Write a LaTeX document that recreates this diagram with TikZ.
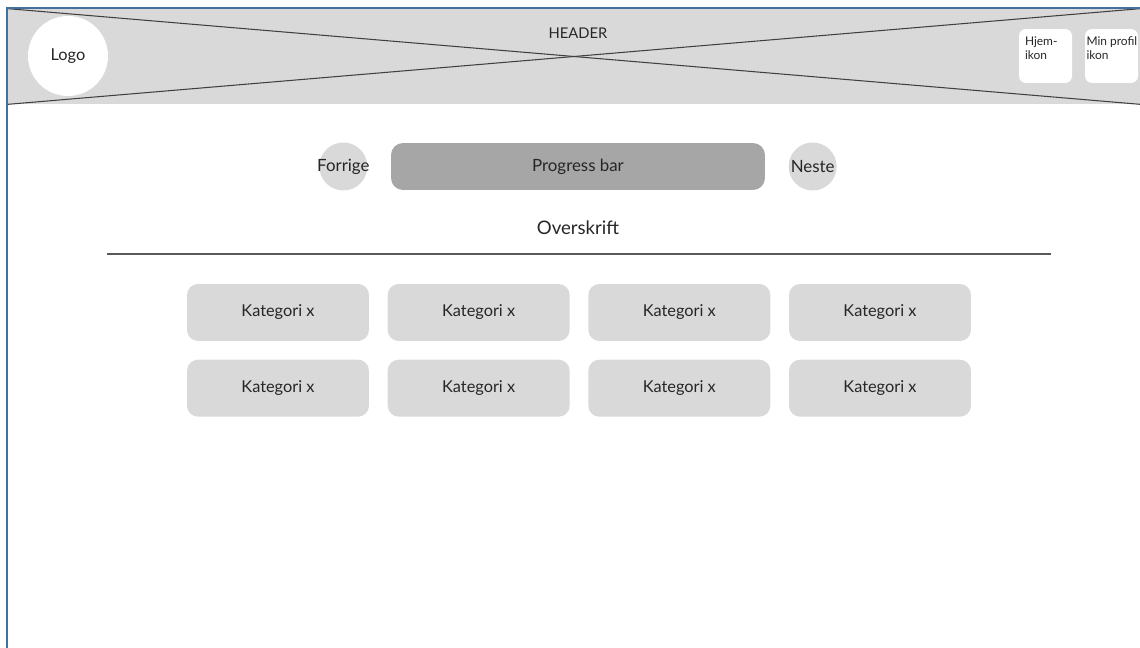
\documentclass[tikz,border=0pt]{standalone}
\usepackage{fontspec}
\setmainfont{Lato}
\usetikzlibrary{positioning}
\definecolor{rammeblaa}{HTML}{41719C}
\definecolor{lysgraa}{HTML}{D9D9D9}
\definecolor{mellomgraa}{HTML}{A6A6A6}
\definecolor{morkgraa}{HTML}{595959}
\definecolor{tekstfarge}{HTML}{262626}
\newcommand\wirefont{\fontsize{9.3}{10}\selectfont}

\begin{document}
\begin{tikzpicture}[
x=0.02cm, y=-0.02cm,
node distance=0.36cm and 0.36cm,
header/.style={
rectangle,
fill=lysgraa,
inner sep=0pt,
minimum width=22.64cm,
minimum height=1.9cm
},
logo/.style={
circle,
fill=white,
inner sep=0pt,
minimum size=1.6cm,
font=\fontsize{9.3}{10}\selectfont,
text=tekstfarge
},
ikonboks/.style={
rectangle,
rounded corners=0.14cm,
fill=white,
inner sep=0pt,
minimum width=1.06cm,
minimum height=1.08cm
},
ikontekst/.style={
anchor=north west,
align=left,
inner sep=0pt,
font=\fontsize{6.8}{8}\selectfont,
text=tekstfarge
},
rundknapp/.style={
circle,
fill=lysgraa,
inner sep=0pt,
minimum size=0.96cm,
font=\fontsize{9.6}{10}\selectfont,
text=tekstfarge
},
progress/.style={
rectangle,
rounded corners=0.24cm,
fill=mellomgraa,
minimum width=7.48cm,
minimum height=0.94cm,
font=\fontsize{9.6}{10}\selectfont,
text=tekstfarge
},
kategori/.style={
rectangle,
rounded corners=0.22cm,
fill=lysgraa,
minimum width=3.64cm,
minimum height=1.14cm,
font=\wirefont,
text=tekstfarge
},
tekst/.style={font=\wirefont, text=tekstfarge},
kryss/.style={draw=black!75, line width=0.6pt},
skillelinje/.style={draw=morkgraa, line width=0.8pt},
ramme/.style={draw=rammeblaa, line width=1.2pt}
]
\useasboundingbox (0,0) rectangle (1140,648);

% header
\node[header] (header) at (574,56.5) {};
\draw[kryss] (header.north west) -- (header.south east);
\draw[kryss] (header.south west) -- (header.north east);
\node[tekst, font=\fontsize{8.4}{9}\selectfont] (headertekst) at (578,33) {HEADER};

\coordinate (rammeNede) at (7,648);
\coordinate (rammeHjorne) at (7,8);
\coordinate (rammeHoyre) at (1140,8);
\draw[ramme] (rammeNede) -- (rammeHjorne) -- (rammeHoyre);

\node[logo] (logo) at (68,56) {Logo};

\node[ikonboks] (hjem) at (1045.5,56) {};
\node[ikontekst] (hjemtekst) at ([xshift=0.12cm, yshift=-0.16cm]hjem.north west) {Hjem-\\ikon};
\node[ikonboks] (profil) at (1111.5,56) {};
\node[ikontekst] (profiltekst) at ([xshift=0.03cm, yshift=-0.16cm]profil.north west) {Min profil\\ikon};

% navigasjon
\node[progress] (progress) at (578,166.5) {Progress bar};
\node[rundknapp, left=0.46cm of progress] (forrige) {\makebox[0pt]{Forrige}};
\node[rundknapp, right=0.46cm of progress] (neste) {\makebox[0pt]{Neste}};

\node[tekst, font=\fontsize{10.6}{11}\selectfont] (overskrift) at (578,228) {Overskrift};
\coordinate (linjeV) at (107,254);
\coordinate (linjeH) at (1051,254);
\draw[skillelinje] (linjeV) -- (linjeH);

% kategorier
\node[kategori] (kat11) at (278,312.5) {Kategori x};
\node[kategori, right=of kat11] (kat12) {Kategori x};
\node[kategori, right=of kat12] (kat13) {Kategori x};
\node[kategori, right=of kat13] (kat14) {Kategori x};

\node[kategori, below=of kat11] (kat21) {Kategori x};
\node[kategori, right=of kat21] (kat22) {Kategori x};
\node[kategori, right=of kat22] (kat23) {Kategori x};
\node[kategori, right=of kat23] (kat24) {Kategori x};

\end{tikzpicture}
\end{document}
